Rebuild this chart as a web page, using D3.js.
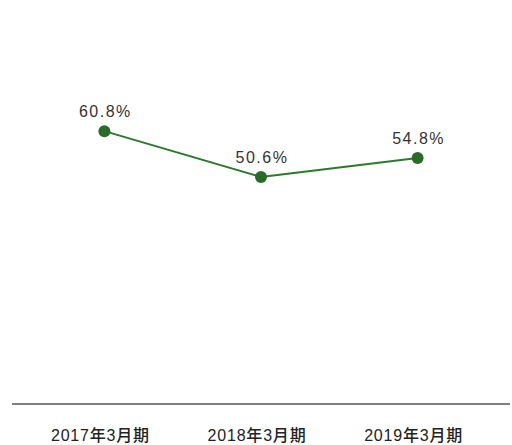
<!DOCTYPE html>
<html>
<head>
<meta charset="utf-8">
<script src="https://cdn.jsdelivr.net/npm/d3@7"></script>
<style>
  body { margin: 0; background: #fff; }
  svg { display: block; }
</style>
</head>
<body>
<div id="chart"></div>
<script>
var categories = ["2017年3月期", "2018年3月期", "2019年3月期"];
var values = [60.8, 50.6, 54.8];
var valueLabels = ["60.8%", "50.6%", "54.8%"];

var width = 512, height = 445;

var svg = d3.select("#chart")
  .append("svg")
    .attr("width", width)
    .attr("height", height);

// x: ordinal points along the base line
var x = d3.scalePoint()
  .domain(categories)
  .range([12, 510])
  .padding(0.59);

// y: 0 sits on the base line
var y = d3.scaleLinear()
  .domain([0, 80])
  .range([404, 45]);

// base line
svg.append("line")
  .attr("x1", 12)
  .attr("x2", 510)
  .attr("y1", y(0))
  .attr("y2", y(0))
  .style("stroke", "#555")
  .style("stroke-width", 1.6);

// category labels
svg.selectAll("text.cat")
  .data(categories)
  .enter()
  .append("text")
    .attr("class", "cat")
    .attr("x", function(d) { return x(d) - 4; })
    .attr("y", 441)
    .attr("text-anchor", "middle")
    .style("font-family", "'Liberation Sans', 'Noto Sans CJK JP', sans-serif")
    .style("font-size", "16px")
    .style("font-weight", "500")
    .style("letter-spacing", "0.8px")
    .style("fill", "#222")
    .text(function(d) { return d; });

var pts = categories.map(function(c, i) { return { cat: c, v: values[i], label: valueLabels[i] }; });

var line = d3.line()
  .x(function(d) { return x(d.cat); })
  .y(function(d) { return y(d.v); });

svg.append("path")
  .datum(pts)
  .attr("d", line)
  .style("fill", "none")
  .style("stroke", "#2b7a2b")
  .style("stroke-width", 2);

svg.selectAll("circle")
  .data(pts)
  .enter()
  .append("circle")
    .attr("cx", function(d) { return x(d.cat); })
    .attr("cy", function(d) { return y(d.v); })
    .attr("r", 6)
    .style("fill", "#2a6a2a");

svg.selectAll("text.val")
  .data(pts)
  .enter()
  .append("text")
    .attr("class", "val")
    .attr("x", function(d) { return x(d.cat) + 1; })
    .attr("y", function(d) { return y(d.v) - 14; })
    .attr("text-anchor", "middle")
    .style("font-family", "'Liberation Sans', Arial, sans-serif")
    .style("font-size", "16px")
    .style("letter-spacing", "1.5px")
    .style("fill", "#333")
    .text(function(d) { return d.label; });
</script>
</body>
</html>
